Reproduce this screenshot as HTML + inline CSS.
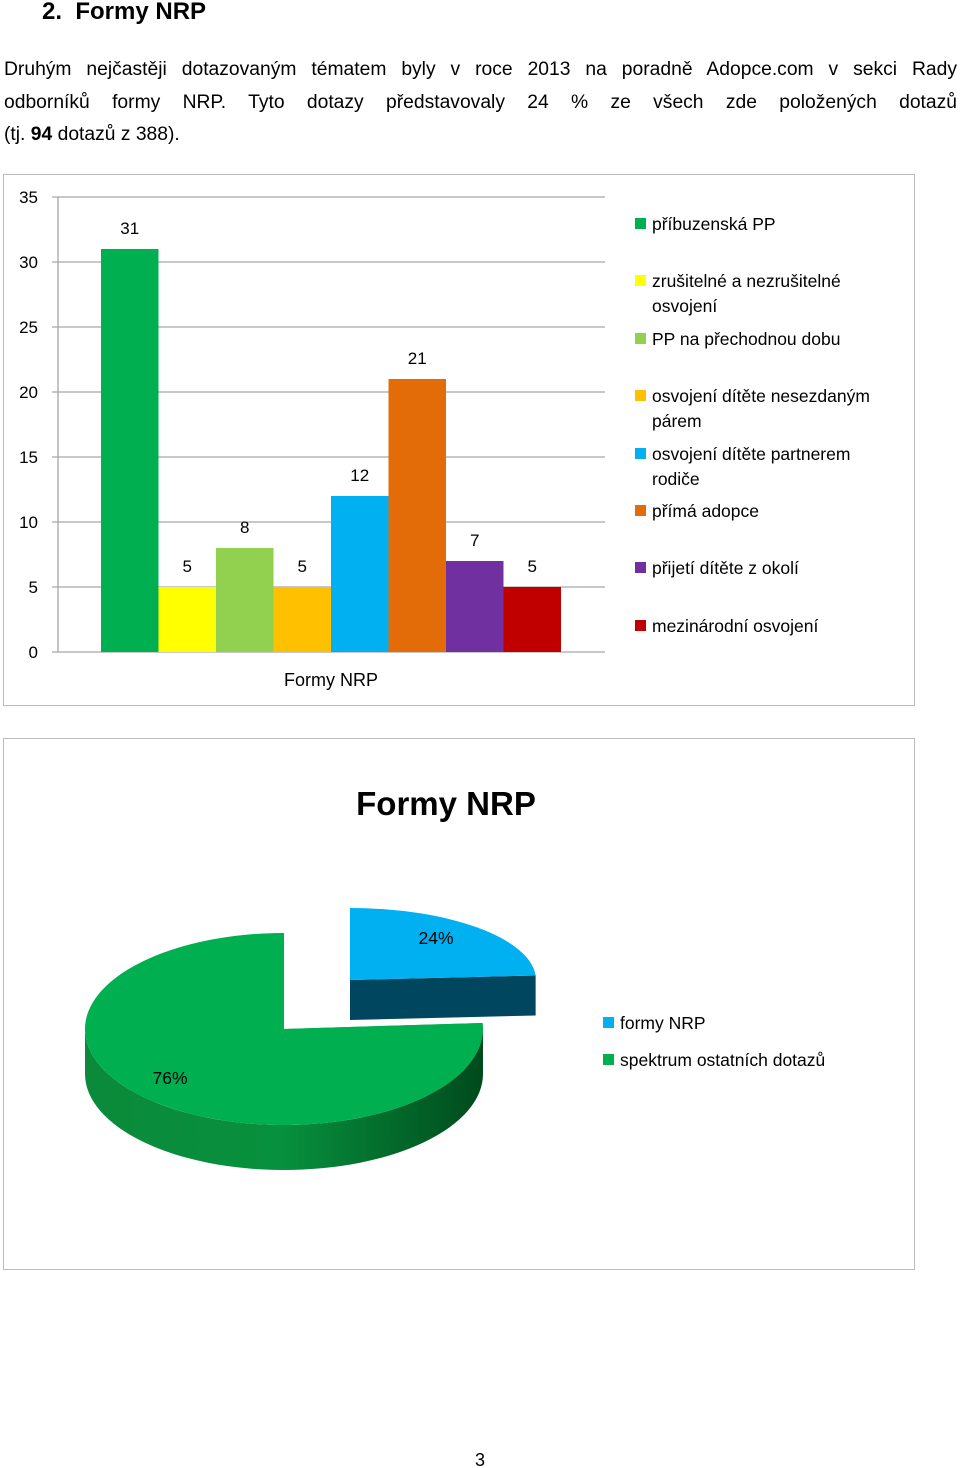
<!DOCTYPE html>
<html><head><meta charset="utf-8">
<style>
body{margin:0;width:960px;height:1468px;background:#fff;font-family:"Liberation Sans",sans-serif;position:relative;overflow:hidden;color:#000}
#title{position:absolute;left:42px;top:-2px;font-size:24px;font-weight:bold}
#para{position:absolute;left:4px;top:54px;width:953px;font-size:19.3px;line-height:32.5px}
.j{text-align:justify;text-align-last:justify;white-space:nowrap}
.j{white-space:normal}
svg{position:absolute;left:0;top:0}
</style></head><body>
<div id="title">2.&nbsp; Formy NRP</div>
<div id="para"><div class="j">Druhým nejčastěji dotazovaným tématem byly v roce 2013 na poradně Adopce.com v sekci Rady</div><div class="j">odborníků formy NRP. Tyto dotazy představovaly 24 % ze všech zde položených dotazů</div><div>(tj. <b>94</b> dotazů z 388).</div></div>
<svg width="960" height="1468" id="svg" font-family="Liberation Sans, sans-serif">
<rect x="3.5" y="174.5" width="911" height="531" fill="#fff" stroke="#bcbcbc"/>
<rect x="3.5" y="738.5" width="911" height="531" fill="#fff" stroke="#bcbcbc"/>
<g id="bar"></g><g id="pie"></g>
<text x="446" y="815" font-size="33" font-weight="bold" text-anchor="middle">Formy NRP</text>
<text x="331" y="686" font-size="18" text-anchor="middle">Formy NRP</text>
<text x="480" y="1466" font-size="18" text-anchor="middle">3</text>
</svg>
<script>
const categories=["příbuzenská PP","zrušitelné a nezrušitelné osvojení","PP na přechodnou dobu","osvojení dítěte nesezdaným párem","osvojení dítěte partnerem rodiče","přímá adopce","přijetí dítěte z okolí","mezinárodní osvojení"];
const values=[31,5,8,5,12,21,7,5];
const yTicks=[0,5,10,15,20,25,30,35];
const pieLabels=["formy NRP","spektrum ostatních dotazů"];
const pieValues=[24,76];

const NS="http://www.w3.org/2000/svg";
function mk(t,a,p){const e=document.createElementNS(NS,t);for(const k in a)e.setAttribute(k,a[k]);p.appendChild(e);return e;}
const colors=["#00b050","#ffff00","#92d050","#ffc000","#00b0f0","#e36c09","#7030a0","#c00000"];
const bar=document.getElementById('bar');
const y0=652,yTop=197,x0=58,x1=605,yMax=35;
function ys(v){return y0-(v/yMax)*(y0-yTop);}
yTicks.forEach(t=>{
  const l=mk('line',{x1:52,x2:x1,y1:ys(t),y2:ys(t),stroke:'#a6a6a6','stroke-width':1.3},bar);
  
  
  const tx=mk('text',{x:38,y:ys(t)+6,'font-size':17,'text-anchor':'end'},bar);
  tx.textContent=t;
  
  
});
const ax=mk('line',{x1:x0,x2:x0,y1:yTop,y2:y0,stroke:'#a6a6a6','stroke-width':1.3},bar);


const bw=57.5,bStart=101;
values.forEach((v,i)=>{
  const x=bStart+i*bw;
  const r=mk('rect',{x:x,y:ys(v),width:bw,height:y0-ys(v),fill:colors[i]},bar);
  
  
  const t=mk('text',{x:x+bw/2,y:ys(v)-15,'font-size':17,'text-anchor':'middle'},bar);
  t.textContent=v;
  
  
});
const legY=[224,281,339,396,454,511,568,626];
categories.forEach((c,i)=>{
  const g=mk('g',{},bar);
  
  
  mk('rect',{x:635,y:legY[i]-6,width:11,height:11,fill:colors[i]},g);
  const words=c.split(' ');
  let lines=[c];
  if(c.length>28){let a='',k=0;for(;k<words.length;k++){if((a+' '+words[k]).trim().length>27)break;a=(a+' '+words[k]).trim();}lines=[a,words.slice(k).join(' ')];}
  lines.forEach((ln,j)=>{const t=mk('text',{x:652,y:legY[i]+6+j*25,'font-size':17.5},g);t.textContent=ln;});
});
// pie
const pie=document.getElementById('pie');
const pcol=[["#00b0f0","#00465f"],["#00b050","url(#gside)"]];
const defs=mk('defs',{},pie);
const gr=mk('linearGradient',{id:'gside',x1:0,x2:1,y1:0,y2:0},defs);
mk('stop',{offset:'0','stop-color':'#0a8a3a'},gr);
mk('stop',{offset:'0.5','stop-color':'#07903d'},gr);
mk('stop',{offset:'1','stop-color':'#004a1c'},gr);
const geo=[{c:[350,980],rx:186,ry:72,dep:40},{c:[284,1029],rx:199,ry:96,dep:45}];
const tot=pieValues.reduce((a,b)=>a+b,0);
let ang=-Math.PI/2;
const slices=pieValues.map((v,i)=>{const a0=ang,a1=ang+v/tot*2*Math.PI;ang=a1;return{a0,a1,i};});
slices.slice().reverse().forEach(s=>{
  const G=geo[s.i],c=G.c,rx=G.rx,ry=G.ry,dep=G.dep;
  const P=a=>[c[0]+rx*Math.cos(a),c[1]+ry*Math.sin(a)];
  const g=mk('g',{},pie);
  
  
  const side=pcol[s.i][1];
  [s.a0,s.a1].forEach(a=>{const p=P(a);mk('path',{d:`M${c[0]},${c[1]} L${p[0]},${p[1]} L${p[0]},${p[1]+dep} L${c[0]},${c[1]+dep} Z`,fill:s.i===0?side:'#0a7a33'},g);});
  const b0=Math.max(s.a0,0),b1=Math.min(s.a1,Math.PI);
  if(b1>b0){const p0=P(b0),p1=P(b1);
    mk('path',{d:`M${p0[0]},${p0[1]} A${rx},${ry} 0 0 1 ${p1[0]},${p1[1]} L${p1[0]},${p1[1]+dep} A${rx},${ry} 0 0 0 ${p0[0]},${p0[1]+dep} Z`,fill:side},g);}
  const q0=P(s.a0),q1=P(s.a1);
  const large=(s.a1-s.a0)>Math.PI?1:0;
  mk('path',{d:`M${c[0]},${c[1]} L${q0[0]},${q0[1]} A${rx},${ry} 0 ${large} 1 ${q1[0]},${q1[1]} Z`,fill:pcol[s.i][0]},g);
  const lp=s.i===0?[436,944]:[170,1084];
  const t=mk('text',{x:lp[0],y:lp[1],'font-size':17.5,'text-anchor':'middle'},g);
  t.textContent=Math.round(pieValues[s.i]/tot*100)+'%';
});
pieLabels.forEach((l,i)=>{
  const g=mk('g',{},pie);
  
  
  mk('rect',{x:603,y:1017+i*37,width:11,height:11,fill:pcol[i][0]},g);
  const t=mk('text',{x:620,y:1029+i*37,'font-size':17.5},g);t.textContent=l;
});
</script>
</body></html>
